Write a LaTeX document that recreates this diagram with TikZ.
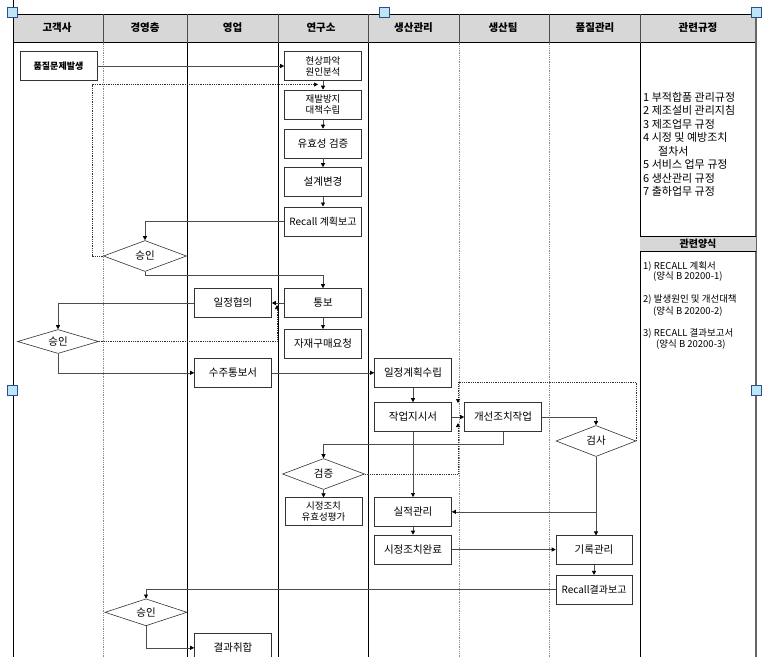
\documentclass[tikz,border=0pt]{standalone}
\usepackage{fontspec}
\setmainfont{Noto Sans CJK KR}
\usetikzlibrary{arrows.meta,shapes.geometric}
\definecolor{hfill}{RGB}{215,215,215}
\definecolor{hdlfill}{RGB}{190,228,247}
\definecolor{hdldraw}{RGB}{40,80,140}
\begin{document}
\begin{tikzpicture}[x=1pt,y=-1pt,
  box/.style={draw=black!80, line width=0.6pt, fill=white, minimum width=77pt, minimum height=29pt, inner sep=0pt, align=center, font=\fontsize{10.5}{12}\selectfont},
  boxs/.style={box, font=\fontsize{9.5}{11}\selectfont},
  dia/.style={diamond, aspect=3, draw=black!80, line width=0.6pt, fill=white, inner sep=0pt, font=\fontsize{10.5}{12}\selectfont},
  conn/.style={draw=black!70, line width=0.6pt, -{Triangle[length=4pt,width=4pt,color=black]}},
  dotconn/.style={draw=black!80, line width=0.7pt, dash pattern=on 0.9pt off 0.9pt, -{Triangle[length=4pt,width=4pt,color=black]}},
  hdr/.style={font=\bfseries\fontsize{10.5}{12}\selectfont, inner sep=0pt},
  reg/.style={anchor=base west, inner sep=0pt, font=\fontsize{11}{12}\selectfont},
  frm/.style={anchor=base west, inner sep=0pt, font=\fontsize{9.5}{10}\selectfont},
  collane/.style={draw=black, line width=0.6pt},
  colsep/.style={draw=black!45, line width=0.6pt, dash pattern=on 1pt off 0.8pt},
  handle/.style={draw=hdldraw, fill=hdlfill, line width=0.6pt, minimum size=10pt, inner sep=0pt}
]
\clip (0,0) rectangle (770,656);
\fill[white] (0,0) rectangle (770,656);
% header
\fill[hfill] (13,14) rectangle (756,42.5);
\draw[black, line width=0.7pt] (13,14) -- (756,14);
\draw[black, line width=0.7pt] (13,42.5) -- (756,42.5);
\foreach \x in {103,187,278,368,459,549,640} \draw[black!70, line width=0.6pt] (\x,14) -- (\x,42.5);
% body lanes
\foreach \x in {187,278,368,640} \draw[collane] (\x,42.5) -- (\x,660);
\foreach \x in {103,459,549} \draw[colsep] (\x,42.5) -- (\x,660);
\draw[black, line width=0.8pt] (13,0) -- (13,660);
\draw[black!60, line width=1.4pt] (756,14) -- (756,660);
% related forms band
\fill[hfill] (640,236.7) rectangle (756,251.7);
\draw[black, line width=0.6pt] (640,236.7) -- (756,236.7);
\draw[black, line width=0.6pt] (640,251.7) -- (756,251.7);
\node[font=\bfseries\fontsize{10}{11}\selectfont, inner sep=0pt] (fhead) at (698,244.2) {관련양식};
% header texts
\node[hdr] (h1) at (57,28) {고객사};
\node[hdr] (h2) at (145,28) {경영층};
\node[hdr] (h3) at (232.5,28) {영업};
\node[hdr] (h4) at (321,28) {연구소};
\node[hdr] (h5) at (413.5,28) {생산관리};
\node[hdr] (h6) at (503,28) {생산팀};
\node[hdr] (h7) at (595,28) {품질관리};
\node[hdr] (h8) at (698,28) {관련규정};
% regulations
\node[reg] (g1) at (643,101) {1 부적합품 관리규정};
\node[reg] (g2) at (643,114.5) {2 제조설비 관리지침};
\node[reg] (g3) at (643,128) {3 제조업무 규정};
\node[reg] (g4) at (643,141.5) {4 시정 및 예방조치};
\node[reg] (g5) at (658,155) {절차서};
\node[reg] (g6) at (643,168.5) {5 서비스 업무 규정};
\node[reg] (g7) at (643,182) {6 생산관리 규정};
\node[reg] (g8) at (643,195.5) {7 출하업무 규정};
% forms
\node[frm] (f1) at (643,269) {1) RECALL 계획서};
\node[frm] (f2) at (653,279.5) {(양식 B 20200-1)};
\node[frm] (f3) at (643,302.5) {2) 발생원인 및 개선대책};
\node[frm] (f4) at (653,314.5) {(양식 B 20200-2)};
\node[frm] (f5) at (643,336.5) {3) RECALL 결과보고서};
\node[frm] (f6) at (656,347.5) {(양식 B 20200-3)};
% process nodes
\node[box, font=\bfseries\fontsize{9}{11}\selectfont] (q1) at (58.5,66) {품질문제발생};
\node[boxs] (r1) at (323,66) {현상파악\\원인분석};
\node[boxs] (r2) at (323,104.5) {재발방지\\대책수립};
\node[box] (r3) at (323,143.5) {유효성 검증};
\node[box] (r4) at (323,182) {설계변경};
\node[box, font=\fontsize{10}{12}\selectfont] (r5) at (323,221.3) {Recall 계획보고};
\node[dia, minimum width=83pt, minimum height=31pt] (ap1) at (145,256) {승인};
\node[box] (r6) at (323,303) {통보};
\node[box] (s1) at (233,303) {일정협의};
\node[dia, minimum width=81pt, minimum height=24pt] (ap2) at (58,341.5) {승인};
\node[box] (r7) at (323,343.8) {자재구매요청};
\node[box] (s2) at (233,372.8) {수주통보서};
\node[box] (p1) at (413,372.8) {일정계획수립};
\node[box] (p2) at (413,417) {작업지시서};
\node[box] (t1) at (503,417) {개선조치작업};
\node[dia, minimum width=82pt, minimum height=31pt] (vf) at (323.5,474) {검증};
\node[boxs, minimum height=28pt] (r8) at (323.5,511.7) {시정조치\\유효성평가};
\node[dia, minimum width=80pt, minimum height=31pt] (ck) at (596,441) {검사};
\node[box] (p3) at (413,511.8) {실적관리};
\node[box] (p4) at (413,549.5) {시정조치완료};
\node[box, minimum width=76pt, minimum height=28.5pt] (qm) at (594,550) {기록관리};
\node[box, minimum width=76pt, font=\fontsize{10}{12}\selectfont] (qr) at (594,589.7) {Recall결과보고};
\node[dia, minimum width=82pt, minimum height=27pt] (ap3) at (146,612.3) {승인};
\node[box] (s3) at (233,647.8) {결과취합};
% connectors
\draw[conn] (q1.east) -- (q1.east -| r1.west);
\draw[conn] (r1) -- (r2);
\draw[conn] (r2) -- (r3);
\draw[conn] (r3) -- (r4);
\draw[conn] (r4) -- (r5);
\draw[conn] (r5.west) -| (ap1.north);
\coordinate (d1) at (318,84.5);
\draw[dotconn] (ap1.west) -- ++(-11,0) |- (d1);
\draw[conn] (ap1.south) -- ++(0,3) -| (r6.north);
\draw[conn] (r6) -- (s1);
\draw[conn] (r6) -- (r7);
\draw[conn] (s1.west) -| (ap2.north);
\coordinate (d2) at (277,305);
\draw[dotconn] (ap2.east) -| (d2);
\draw[conn] (ap2.south) |- (s2.west);
\draw[conn] (s2) -- (p1);
\draw[conn] (p1) -- (p2);
\draw[conn] (p2) -- (t1);
\draw[conn] (t1.south) -- ++(0,12.3) -| (vf.north);
\draw[conn] (vf) -- (r8);
\coordinate (d3) at (458,423);
\draw[dotconn] (vf.east) -| (d3);
\draw[conn] (t1.east) -| (ck.north);
\coordinate (d4a) at (458,382);
\coordinate (d4) at (458,403);
\draw[dotconn] (ck.east) |- (d4a) -- (d4);
\draw[conn] (ck.south) -- (ck.south |- qm.north);
\draw[conn] (ck.south |- p3.east) -- (p3.east);
\draw[conn] (p2) -- (p3);
\draw[conn] (p3) -- (p4);
\draw[conn] (p4.east) -- (p4.east -| qm.west);
\draw[conn] (qm) -- (qr);
\draw[conn] (qr.west) -| (ap3.north);
\draw[conn] (ap3.south) |- (s3.west);
% selection handles
\node[handle] (hd1) at (12,12.5) {};
\node[handle] (hd2) at (384.5,12.5) {};
\node[handle] (hd3) at (756.5,12.5) {};
\node[handle] (hd4) at (12,390) {};
\node[handle] (hd5) at (756.5,390) {};
\end{tikzpicture}
\end{document}
